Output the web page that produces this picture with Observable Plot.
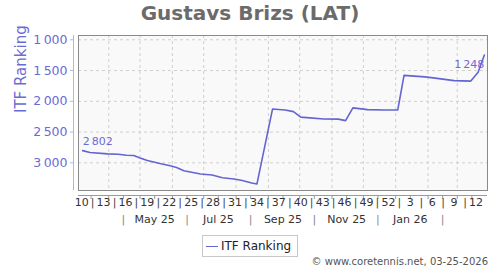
<!DOCTYPE html>
<html><head><meta charset="utf-8">
<script src="https://cdn.jsdelivr.net/npm/d3@7"></script>
<script src="https://cdn.jsdelivr.net/npm/@observablehq/plot@0.6"></script>
<style>
body{margin:0;background:#fff;font-family:"DejaVu Sans",sans-serif;}
#wrap{position:relative;width:500px;height:270px;overflow:hidden;}
#chart{position:absolute;left:0;top:0;}
#title{position:absolute;left:0;top:1px;width:500px;text-align:center;font:bold 20px "DejaVu Sans";line-height:24px;color:#6b6b6b;}
#legend{position:absolute;left:202px;top:235px;width:94px;height:20px;border:1px solid #c8c8c8;background:#fff;font:12px "DejaVu Sans";color:#222;}
#legend .sw{position:absolute;left:3px;top:10px;width:12px;height:0;border-top:1.6px solid #6464d2;}
#legend .lb{position:absolute;left:18px;top:3px;line-height:14px;}
#footer{position:absolute;right:12px;top:256px;font:10px "DejaVu Sans";line-height:12px;color:#555;}
</style></head>
<body>
<div id="wrap">
  <div id="chart"></div>
  <div id="title">Gustavs Brizs (LAT)</div>
  <div id="legend"><div class="sw"></div><div class="lb">ITF Ranking</div></div>
  <div id="footer">© www.coretennis.net, 03-25-2026</div>
</div>
<script>
// ---- data ----
const rankDates = ["2025-03-07","2025-03-14","2025-03-31","2025-04-10","2025-04-18","2025-04-25","2025-05-01","2025-05-08","2025-05-21","2025-05-30","2025-06-05","2025-06-12","2025-06-28","2025-07-09","2025-07-19","2025-07-30","2025-08-07","2025-08-16","2025-08-21","2025-09-05","2025-09-17","2025-09-25","2025-10-02","2025-10-08","2025-10-24","2025-11-07","2025-11-14","2025-11-21","2025-12-05","2025-12-21","2026-01-03","2026-01-09","2026-01-29","2026-02-06","2026-02-26","2026-03-14","2026-03-21","2026-03-27"];
const rankValues = [2802,2831,2855,2860,2878,2880,2920,2962,3015,3047,3075,3128,3182,3199,3243,3264,3287,3329,3345,2124,2140,2168,2257,2265,2287,2290,2314,2107,2135,2140,2140,1578,1603,1619,1663,1671,1528,1248];
const yTicks = [1000,1500,2000,2500,3000];
const weekLabels = ["10","13","16","19","22","25","28","31","34","37","40","43","46","49","52","3","6","9","12"];
const weekYears = [2025,2025,2025,2025,2025,2025,2025,2025,2025,2025,2025,2025,2025,2025,2025,2026,2026,2026,2026];
const monthLabels = ["May 25","Jul 25","Sep 25","Nov 25","Jan 26"];
const monthLabelDates = ["2025-05-15","2025-07-15","2025-09-15","2025-11-15","2026-01-15"];
const monthSepDates = ["2025-04-15","2025-06-15","2025-08-15","2025-10-15","2025-12-15","2026-02-15"];
const seriesName = "ITF Ranking";

// ---- build ----
const data = rankDates.map((d, i) => ({date: new Date(d), rank: rankValues[i]}));
const xDomain = [new Date("2025-03-03"), new Date("2026-03-30")];
const yDomain = [930, 3450];
const fmt = v => d3.format(",")(v).replace(/,/g, "\u202F");
const purple = "#6464d2";
const txtPurple = "#6b6bd6";

function isoWeekCenter(year, week) {
  const jan4 = new Date(Date.UTC(year, 0, 4));
  const dow = (jan4.getUTCDay() + 6) % 7;
  const monday1 = new Date(jan4.getTime() - dow * 864e5);
  return new Date(monday1.getTime() + ((week - 1) * 7 + 3) * 864e5);
}
const weekData = weekLabels.map((w, i) => ({date: isoWeekCenter(weekYears[i], +w), label: w}));
const weekSeps = weekData.slice(1).map((d, i) => ({date: new Date((d.date.getTime() + weekData[i].date.getTime()) / 2)}));
const monthData = monthLabels.map((m, i) => ({date: new Date(monthLabelDates[i]), label: m}));
const monthSeps = monthSepDates.map(d => ({date: new Date(d)}));
const monthStarts = d3.utcMonth.range(xDomain[0], xDomain[1]);
const halfMonths = monthStarts.flatMap(m => [m, d3.utcDay.offset(m, 14)]).concat([d3.utcDay.offset(d3.utcMonth.floor(xDomain[0]), 14)]).filter(d => d >= xDomain[0] && d <= xDomain[1]);

const first = data[0], last = data[data.length - 1];

const chart = Plot.plot({
  width: 500, height: 270,
  marginLeft: 78, marginRight: 13, marginTop: 35, marginBottom: 80,
  x: {type: "utc", domain: xDomain},
  y: {domain: yDomain, reverse: true},
  style: {fontFamily: "DejaVu Sans", background: "transparent", overflow: "visible"},
  marks: [
    Plot.frame({fill: "#f9f9f9", stroke: null}),
    Plot.gridY(yTicks, {stroke: "#cfcfcf", strokeOpacity: 1, strokeDasharray: "3,3"}),
    Plot.gridX(monthStarts, {stroke: "#cfcfcf", strokeOpacity: 1, strokeDasharray: "3,3"}),
    Plot.frame({stroke: "#8a8a8a"}),
    Plot.ruleX([xDomain[0]], {dx: -5, stroke: "#b4b4dc"}),
    Plot.axisY(yTicks, {anchor: "left", tickSize: 3, tickPadding: 3, dx: -5, stroke: "#b4b4dc", fill: txtPurple, fontSize: 12.5, tickFormat: fmt, label: null}),
    Plot.ruleY([yDomain[1]], {dy: 5, stroke: "#9a9a9a"}),
    Plot.axisX(halfMonths, {anchor: "bottom", tickSize: 4, dy: 5, stroke: "#9a9a9a", tickFormat: () => "", label: null}),
    Plot.text(weekData, {x: "date", text: "label", frameAnchor: "bottom", dy: 15, fill: "#333", fontSize: 11}),
    Plot.text(weekSeps, {x: "date", text: () => "|", frameAnchor: "bottom", dy: 15, fill: "#444", fontSize: 11}),
    Plot.text(monthData, {x: "date", text: "label", frameAnchor: "bottom", dy: 32, fill: "#333", fontSize: 11}),
    Plot.text(monthSeps, {x: "date", text: () => "|", frameAnchor: "bottom", dy: 32, fill: "#888", fontSize: 11}),
    Plot.line(data, {x: "date", y: "rank", stroke: purple, strokeWidth: 1.6}),
    Plot.text([first], {x: "date", y: "rank", text: d => fmt(d.rank), textAnchor: "start", dy: -9, fill: txtPurple, fontSize: 11}),
    Plot.text([last], {x: "date", y: "rank", text: d => fmt(d.rank), textAnchor: "end", dy: 9, fill: txtPurple, fontSize: 11}),
    Plot.text([seriesName], {text: d => d, frameAnchor: "left", dx: -57, rotate: -90, fill: txtPurple, fontSize: 15})
  ]
});
document.getElementById("chart").appendChild(chart);
</script>
</body></html>
